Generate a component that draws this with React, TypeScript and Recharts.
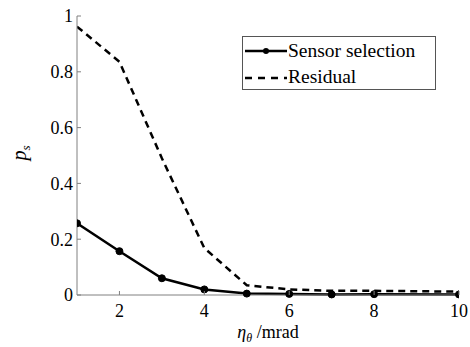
import React from 'react'
import { LineChart, Line, XAxis, YAxis, Label } from 'recharts'

// eta_theta (mrad) -- no sample at 9 in the source figure
const etaTheta = [1, 2, 3, 4, 5, 6, 7, 8, 10]
const sensorSelection = [0.257, 0.157, 0.06, 0.02, 0.005, 0.004, 0.002, 0.003, 0.002]
const residual = [0.962, 0.836, 0.49, 0.168, 0.035, 0.02, 0.015, 0.015, 0.012]

const xTicks = [2, 4, 6, 8, 10]
const yTicks = [0, 0.2, 0.4, 0.6, 0.8, 1]

const data = etaTheta.map((x, i) => ({
  x,
  sensor: sensorSelection[i],
  residual: residual[i],
}))

const FONT = "'Liberation Serif', 'Tinos', 'Times New Roman', 'DejaVu Serif', 'Noto Serif', serif"
const AXIS = '#808080'
const TICK = 4

const BottomTick = (props: any) => {
  const { x, y, payload } = props
  return (
    <g>
      <line x1={x} x2={x} y1={y} y2={y - TICK} stroke={AXIS} />
      <text x={x} y={y + 22} textAnchor="middle" style={{ fontFamily: FONT }} fontSize={18} fill="#000">
        {payload.value}
      </text>
    </g>
  )
}

const LeftTick = (props: any) => {
  const { x, y, payload } = props
  return (
    <g>
      <line x1={x} x2={x + TICK} y1={y} y2={y} stroke={AXIS} />
      <text x={x - 4} y={y} dy="0.35em" textAnchor="end" style={{ fontFamily: FONT }} fontSize={18} fill="#000">
        {payload.value}
      </text>
    </g>
  )
}

const TopTick = (props: any) => {
  const { x, y } = props
  return <line x1={x} x2={x} y1={y} y2={y + TICK} stroke={AXIS} />
}

const RightTick = (props: any) => {
  const { x, y } = props
  return <line x1={x} x2={x - TICK} y1={y} y2={y} stroke={AXIS} />
}

function LegendBox() {
  return (
    <div
      style={{
        position: 'absolute',
        left: 242,
        top: 36,
        width: 194,
        height: 54,
        border: '1px solid #555',
        background: '#fff',
        fontFamily: FONT,
        fontSize: 19.5,
        color: '#000',
        boxSizing: 'border-box',
      }}
    >
      <svg width={46} height={54} style={{ position: 'absolute', left: 0, top: 0 }}>
        <line x1={2} x2={44} y1={14} y2={14} stroke="#000" strokeWidth={2.5} />
        <circle cx={23} cy={14} r={3} fill="#000" />
        <line x1={2} x2={44} y1={41} y2={41} stroke="#000" strokeWidth={2.5} strokeDasharray="7 6" />
      </svg>
      <div style={{ position: 'absolute', left: 45, top: 2, lineHeight: '24px' }}>Sensor selection</div>
      <div style={{ position: 'absolute', left: 45, top: 28, lineHeight: '24px' }}>Residual</div>
    </div>
  )
}

export default function App() {
  return (
    <div style={{ position: 'absolute', left: 0, top: 0, width: 470, height: 347, background: '#fff' }}>
      <LineChart width={470} height={347} data={data} margin={{ top: 16, right: 11, bottom: 0, left: 0 }}>
        <XAxis
          xAxisId="bottom"
          dataKey="x"
          type="number"
          domain={[1, 10]}
          ticks={xTicks}
          height={52}
          tickSize={0}
          tickMargin={0}
          tickLine={false}
          tick={<BottomTick />}
          axisLine={{ stroke: AXIS }}
          allowDataOverflow
        >
          <Label
            content={() => (
              <text x={268} y={338} textAnchor="middle" style={{ fontFamily: FONT }} fontSize={18} fill="#000">
                <tspan fontStyle="italic">η</tspan>
                <tspan fontStyle="italic" fontSize={12} dy={4}>θ</tspan>
                <tspan dy={-4}> /mrad</tspan>
              </text>
            )}
          />
        </XAxis>
        <XAxis
          xAxisId="top"
          dataKey="x"
          type="number"
          orientation="top"
          domain={[1, 10]}
          ticks={xTicks}
          height={0}
          tickSize={0}
          tickMargin={0}
          tickLine={false}
          tick={<TopTick />}
          axisLine={{ stroke: AXIS }}
        />
        <YAxis
          yAxisId="left"
          type="number"
          domain={[0, 1]}
          ticks={yTicks}
          width={77}
          tickSize={0}
          tickMargin={0}
          tickLine={false}
          tick={<LeftTick />}
          axisLine={{ stroke: AXIS }}
        >
          <Label
            content={() => (
              <text
                x={26}
                y={153}
                transform="rotate(-90 26 153)"
                textAnchor="middle"
                style={{ fontFamily: FONT }}
                fontSize={20}
                fill="#000"
              >
                <tspan fontStyle="italic">p</tspan>
                <tspan fontStyle="italic" fontSize={13} dy={4}>s</tspan>
              </text>
            )}
          />
        </YAxis>
        <YAxis
          yAxisId="right"
          type="number"
          orientation="right"
          domain={[0, 1]}
          ticks={yTicks}
          width={0}
          tickSize={0}
          tickMargin={0}
          tickLine={false}
          tick={<RightTick />}
          axisLine={{ stroke: AXIS }}
        />
        <Line
          xAxisId="bottom"
          yAxisId="left"
          dataKey="residual"
          type="linear"
          stroke="#000"
          strokeWidth={2.5}
          strokeDasharray="7 5"
          dot={false}
          isAnimationActive={false}
        />
        <Line
          xAxisId="bottom"
          yAxisId="left"
          dataKey="sensor"
          type="linear"
          stroke="#000"
          strokeWidth={2.5}
          dot={{ r: 3.5, fill: '#000', stroke: '#000', strokeWidth: 1 }}
          isAnimationActive={false}
        />
      </LineChart>
      <LegendBox />
    </div>
  )
}
